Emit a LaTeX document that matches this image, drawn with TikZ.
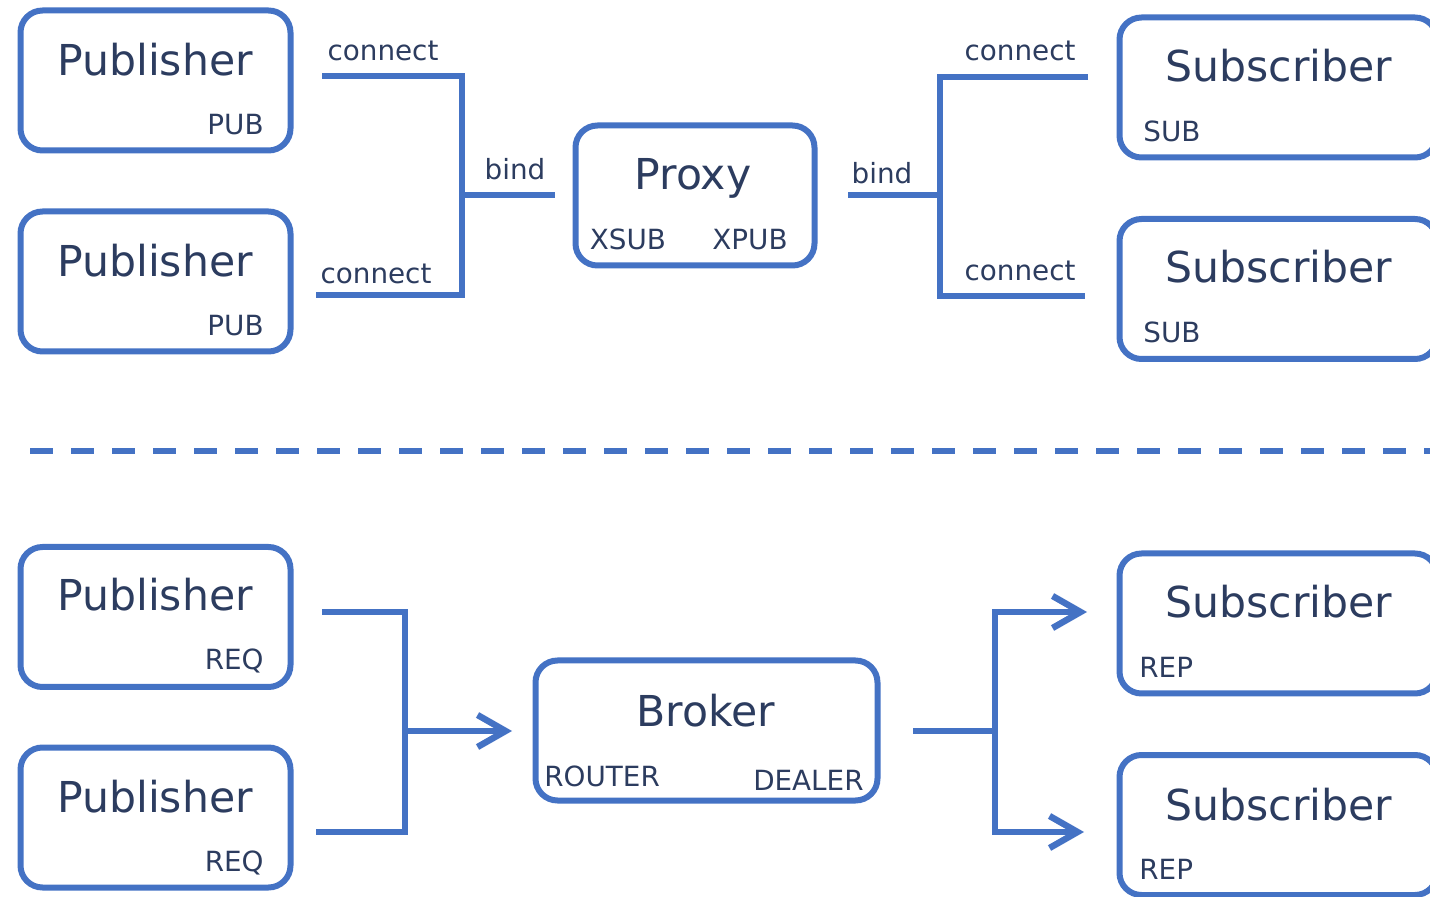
\documentclass[tikz,border=0pt]{standalone}
\usepackage{fontspec}
\setmainfont{DejaVu Sans}
\usetikzlibrary{arrows.meta}
\definecolor{linkblue}{RGB}{68,114,196}
\definecolor{inknavy}{RGB}{44,60,95}
\tikzset{
  box/.style={draw=linkblue, line width=3pt, rounded corners=11pt,
    minimum width=#1, minimum height=70pt, inner sep=0pt},
  big/.style={text=inknavy, font=\fontsize{21.3}{25}\selectfont, inner sep=0pt, anchor=base},
  small/.style={text=inknavy, font=\fontsize{13.9}{16}\selectfont, inner sep=0pt},
  wire/.style={draw=linkblue, line width=3pt, line join=miter, line cap=butt},
  arr/.style={wire, -{Straight Barb[length=14pt,width=16pt,line width=3.2pt]}},
  sep/.style={draw=linkblue, line width=3pt, dash pattern=on 11.5pt off 9pt}
}
\begin{document}
\begin{tikzpicture}[x=0.5pt, y=-0.5pt]
\useasboundingbox (0,0) rectangle (1430,897);

% ---------- PUB/SUB through an XSUB/XPUB proxy ----------
\node[box=135pt] (pub1) at (155.5,80.5) {};
\node[box=135pt] (pub2) at (155.5,281.5) {};
\node[box=119.5pt] (proxy) at (695,195.5) {};
\node[box=158.75pt] (sub1) at (1278.25,87.5) {};
\node[box=158.75pt] (sub2) at (1278.25,289) {};

\node[big] (pub1t) at (155,76) {Publisher};
\node[small, anchor=base east] (pub1s) at (264,135) {PUB};
\node[big] (pub2t) at (155,277) {Publisher};
\node[small, anchor=base east] (pub2s) at (264,336) {PUB};
\node[big] (proxyt) at (693,190) {Proxy};
\node[small, anchor=base] (xsub) at (628,250) {XSUB};
\node[small, anchor=base] (xpub) at (750,250) {XPUB};
\node[big] (sub1t) at (1279,82) {Subscriber};
\node[small, anchor=base west] (sub1s) at (1143,142) {SUB};
\node[big] (sub2t) at (1279,283) {Subscriber};
\node[small, anchor=base west] (sub2s) at (1143,343) {SUB};

\coordinate (pub1o) at (322,76);
\coordinate (pub2o) at (316,295);
\coordinate (jl) at (462,195);
\coordinate (proxyi) at (555,195);
\coordinate (proxyo) at (848,195);
\coordinate (jr) at (940,195);
\coordinate (sub1i) at (1088,77);
\coordinate (sub2i) at (1085,296);

\draw[wire] (pub1o) -| (jl) |- (pub2o);
\draw[wire] (jl) -- (proxyi);
\draw[wire] (sub1i) -| (jr) |- (sub2i);
\draw[wire] (proxyo) -- (jr);

\node[small, anchor=base] (c1) at (383,61) {connect};
\node[small, anchor=base] (c2) at (376,284) {connect};
\node[small, anchor=base] (b1) at (515,180) {bind};
\node[small, anchor=base] (b2) at (882,184) {bind};
\node[small, anchor=base] (c3) at (1020,61) {connect};
\node[small, anchor=base] (c4) at (1020,281) {connect};

% ---------- separator ----------
\coordinate (sepl) at (30,451);
\coordinate (sepr) at (1440,451);
\draw[sep] (sepl) -- (sepr);

% ---------- REQ/REP through a ROUTER/DEALER broker ----------
\node[box=135pt] (pub3) at (155.5,617) {};
\node[box=135pt] (pub4) at (155.5,817.5) {};
\node[box=171pt] (broker) at (706.5,730.5) {};
\node[box=158.75pt] (sub3) at (1278.25,623.5) {};
\node[box=158.75pt] (sub4) at (1278.25,825) {};

\node[big] (pub3t) at (155,611) {Publisher};
\node[small, anchor=base east] (pub3s) at (264,670) {REQ};
\node[big] (pub4t) at (155,812) {Publisher};
\node[small, anchor=base east] (pub4s) at (264,871) {REQ};
\node[big] (brokert) at (706,726) {Broker};
\node[small, anchor=base west] (router) at (544,786) {ROUTER};
\node[small, anchor=base east] (dealer) at (864,790) {DEALER};
\node[big] (sub3t) at (1279,618) {Subscriber};
\node[small, anchor=base west] (sub3s) at (1139,677) {REP};
\node[big] (sub4t) at (1279,820) {Subscriber};
\node[small, anchor=base west] (sub4s) at (1139,879) {REP};

\coordinate (pub3o) at (322,612);
\coordinate (pub4o) at (316,832);
\coordinate (jl2) at (405,731);
\coordinate (brokeri) at (512,731);
\coordinate (brokero) at (913,731);
\coordinate (jr2) at (995,731);
\coordinate (sub3i) at (1087,612);
\coordinate (sub4i) at (1084,832);

\draw[wire] (pub3o) -| (jl2) |- (pub4o);
\draw[arr] (jl2) -- (brokeri);
\draw[wire] (brokero) -- (jr2);
\draw[arr] (jr2) |- (sub3i);
\draw[arr] (jr2) |- (sub4i);
\end{tikzpicture}
\end{document}
